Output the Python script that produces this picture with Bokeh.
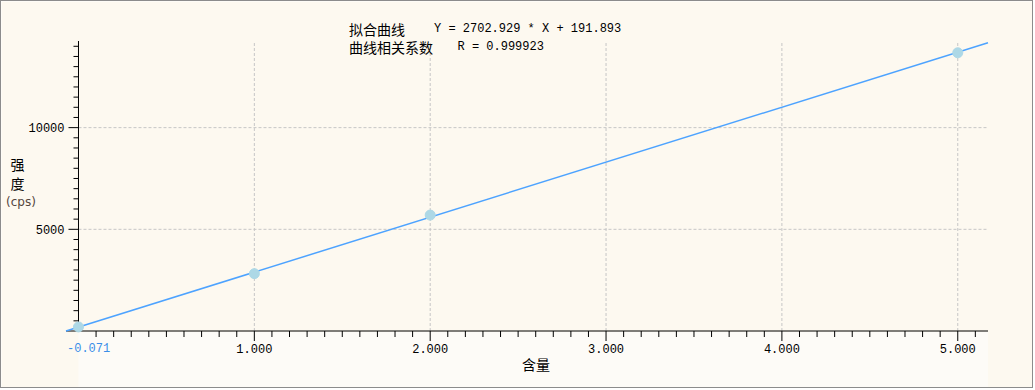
from bokeh.plotting import figure
from bokeh.models import Range1d
from bokeh.core.properties import value
from bokeh.embed import file_html
from bokeh.resources import INLINE

# ---- data ----
content = [0, 1, 2, 5]
intensity = [200, 2820, 5700, 13680]
fit_x = [-0.071, 5.172]
fit_y = [0.0, 14171.6]
x_ticks = [1, 2, 3, 4, 5]
x_tick_labels = ["1.000", "2.000", "3.000", "4.000", "5.000"]
x_start = -0.071
x_start_label = "-0.071"
y_ticks = [5000, 10000]
y_tick_labels = ["5000", "10000"]
fit_name, fit_eq = "拟合曲线", "Y = 2702.929 * X + 191.893"
r_name, r_eq = "曲线相关系数", "R = 0.999923"
x_title = "含量"
y_title = ["强", "度", "(cps)"]

# ---- layout (pixel indices of the 1035x390 page) ----
AX_X0, AX_X1 = x_start, 5.172    # extent of the x axis
AX_Y1 = 14260                    # value at the top of the y axis
PL, PR, PT, PB = 65, 987, 40, 330
W, H = 1033, 388                 # canvas, plus a 1px css border
BG = "#fdf9f0"
MONO = "Liberation Mono"
CJK = "Noto Sans CJK SC"

XU = (AX_X1 - AX_X0) / (PR - PL)   # data units per pixel
YU = AX_Y1 / (PB - PT)
def dx(px):
    return AX_X0 + (px - PL) * XU
def dy(py):
    return (PB - py) * YU

p = figure(width=W, height=H, x_range=Range1d(dx(0.5), dx(0.5 + W)),
           y_range=Range1d(dy(0.5 + H), dy(0.5)),
           output_backend="svg", toolbar_location=None,
           x_axis_location=None, y_axis_location=None,
           min_border_left=0, min_border_right=0, min_border_top=0, min_border_bottom=0,
           background_fill_color=BG, border_fill_color=BG, outline_line_color=None)
p.styles = {"border": "1px solid #8c8c8c"}
p.xgrid.visible = False
p.ygrid.visible = False

# lighter band beneath the x axis
p.quad(left=[0], right=[AX_X1], top=[dy(331)], bottom=[dy(390)], fill_color="#fdfbf7",
       line_color=None)

# dashed grid lines
GRID = "#c6c6c6"
p.segment(x0=x_ticks, y0=[0] * len(x_ticks), x1=x_ticks, y1=[AX_Y1] * len(x_ticks),
          line_color=GRID, line_dash="3 2", line_width=1)
p.segment(x0=[0] * len(y_ticks), y0=y_ticks, x1=[AX_X1] * len(y_ticks), y1=y_ticks,
          line_color=GRID, line_dash="3 2", line_width=1)

# x axis
p.segment(x0=[AX_X0], y0=[0], x1=[AX_X1], y1=[0], line_color="black", line_width=1)
minor_x = [round(0.1 * i, 1) for i in range(1, 52) if i % 10]
p.segment(x0=minor_x, y0=[0] * len(minor_x), x1=minor_x, y1=[-6 * YU] * len(minor_x),
          line_color="black", line_width=1)
p.segment(x0=x_ticks, y0=[0] * len(x_ticks), x1=x_ticks, y1=[-10 * YU] * len(x_ticks),
          line_color="black", line_width=1)
p.text(x=x_ticks, y=[dy(347)] * len(x_ticks), text=x_tick_labels, text_align="center",
       text_baseline="middle", text_font=value(MONO), text_font_size="12px", text_color="black")
p.text(x=[dx(66)], y=[dy(346.5)], text=[x_start_label], text_align="left",
       text_baseline="middle", text_font=value(MONO), text_font_size="12px", text_color="#3a8ee8")
p.text(x=[dx(535)], y=[dy(363)], text=[x_title], text_align="center", text_baseline="middle",
       text_font=value(CJK), text_font_size="14px", text_color="black")

# y axis at x = 0
p.segment(x0=[0], y0=[0], x1=[0], y1=[AX_Y1], line_color="black", line_width=1)
minor_y = [500 * i for i in range(1, 29) if (500 * i) not in y_ticks]
p.segment(x0=[-5 * XU] * len(minor_y), y0=minor_y, x1=[0] * len(minor_y), y1=minor_y,
          line_color="black", line_width=1)
p.segment(x0=[-10 * XU] * len(y_ticks), y0=y_ticks, x1=[0] * len(y_ticks), y1=y_ticks,
          line_color="black", line_width=1)
p.text(x=[dx(63.5)] * len(y_ticks), y=y_ticks, text=y_tick_labels, text_align="right",
       text_baseline="middle", text_font=value(MONO), text_font_size="12px", text_color="black")
p.text(x=[dx(16.5), dx(16.5)], y=[dy(163), dy(182)], text=y_title[:2], text_align="center",
       text_baseline="middle", text_font=value(CJK), text_font_size="14px", text_color="black")
p.text(x=[dx(20)], y=[dy(201)], text=y_title[2:], text_align="center",
       text_baseline="middle", text_font=value("DejaVu Sans"), text_font_size="12px",
       text_color="#54463e")

# fit line and measured points
p.line(fit_x, fit_y, line_color="#4da3ff", line_width=1.5)
p.scatter(content, intensity, size=10, fill_color="#add8e6", line_color="#add8e6")

# header texts
p.text(x=[dx(348), dx(348)], y=[dy(27.5), dy(45.5)], text=[fit_name, r_name], text_align="left",
       text_baseline="middle", text_font=value(CJK), text_font_size="14px", text_color="black")
p.text(x=[dx(433), dx(456.5)], y=[dy(27.5), dy(45.5)], text=[fit_eq, r_eq], text_align="left",
       text_baseline="middle", text_font=value(MONO), text_font_size="12px", text_color="black")

open("out.html", "w").write(file_html(p, INLINE))
